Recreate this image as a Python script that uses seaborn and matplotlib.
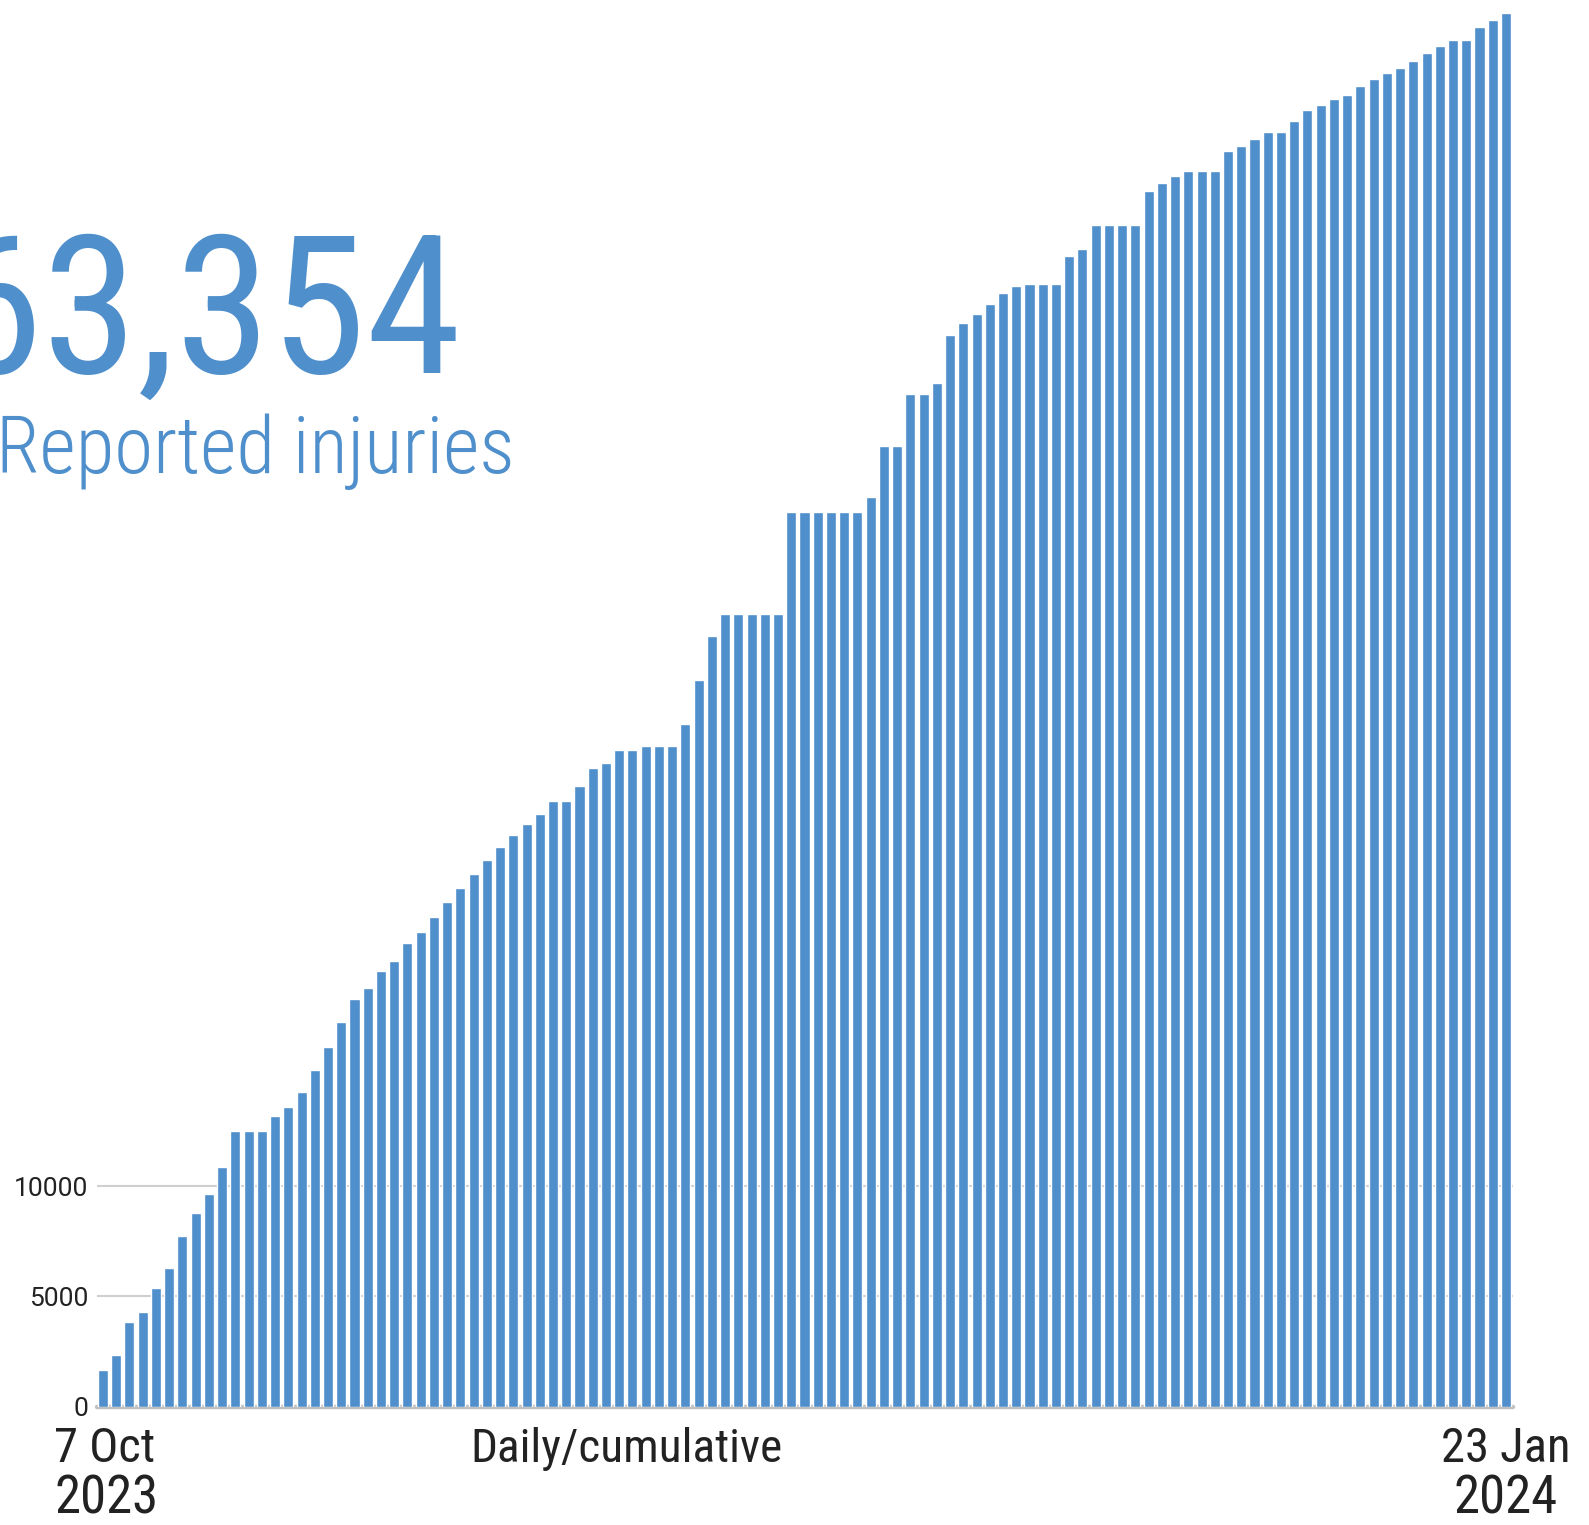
import matplotlib
matplotlib.use("Agg")
import matplotlib.pyplot as plt
import seaborn as sns
from matplotlib import font_manager

# ---- data ----
day_index = list(range(1, 108))  # daily bars from 7 Oct 2023 to 23 Jan 2024
cumulative_injuries = [
    1645, 2327, 3827, 4282, 5373, 6282, 7750, 8782, 9645, 10873,
    12523, 12523, 12523, 13191, 13600, 14282, 15282, 16327, 17464, 18509,
    19009, 19782, 20236, 21055, 21555, 22236, 22918, 23555, 24191, 24827,
    25418, 25964, 26464, 26918, 27509, 27509, 28205, 29023, 29250, 29841,
    29841, 30023, 30023, 30023, 31023, 33023, 35023, 36023, 36023, 36023,
    36023, 36023, 40659, 40659, 40659, 40659, 40659, 40659, 41341, 43659,
    43659, 46023, 46023, 46523, 48705, 49250, 49659, 50114, 50614, 50932,
    51023, 51023, 51023, 52295, 52614, 53705, 53705, 53705, 53705, 55250,
    55614, 55932, 56159, 56159, 56159, 57068, 57295, 57614, 57932, 57932,
    58432, 58932, 59159, 59432, 59614, 60023, 60341, 60614, 60841, 61159,
    61523, 61841, 62114, 62114, 62705, 63023, 63354,
]
ytick_values = [0, 5000, 10000]
ytick_labels = ["0", "5000", "10000"]
total_label = "63,354"
subtitle = "Reported injuries"
start_label = ["7 Oct", "2023"]
end_label = ["23 Jan", "2024"]
mode_label = "Daily/cumulative"

BLUE = "#4f8fcc"
DARK = "#222222"

sns.set_style("white")
names = {f.name for f in font_manager.fontManager.ttflist}
cond = "Roboto"
for cand in ["Roboto Condensed", "Liberation Sans Narrow", "DejaVu Sans Condensed"]:
    if cand in names:
        cond = cand
        break
plt.rcParams["font.family"] = ["Roboto", "DejaVu Sans"]

W, H = 1589, 1525
fig = plt.figure(figsize=(W / 100, H / 100), dpi=100)
ax = fig.add_axes([97 / W, (H - 1406.5) / H, (1513 - 97) / W, 1406.5 / H])

sns.barplot(x=day_index, y=cumulative_injuries, color=BLUE, saturation=1,
            width=0.76, ax=ax, zorder=2)

ax.set_xlim(-0.453, 106.53)
ax.set_ylim(0, 63930)
ax.set_xticks([])
ax.set_xlabel("")
ax.set_ylabel("")
ax.set_yticks(ytick_values)
ax.set_yticklabels(ytick_labels, family=["Roboto", "DejaVu Sans"], fontsize=19, color=DARK)
ax.tick_params(axis="y", length=0, pad=6.5)
ax.yaxis.grid(True, color="#cfcfcf", lw=1.5, zorder=0)
ax.set_axisbelow(True)
for s in ax.spines.values():
    s.set_visible(False)
ax.axhline(0, color="#c0c0c0", lw=3.2, zorder=1, clip_on=False)

def fx(px):
    return px / W

def fy(py):
    return 1 - py / H

fig.text(fx(462), fy(373), total_label, ha="right", va="baseline",
         fontsize=139, color=BLUE, family=[cond, "Roboto"])
fig.text(fx(-4), fy(473), subtitle, ha="left", va="baseline",
         fontsize=57, color=BLUE, fontweight="light", family=[cond, "Roboto"])

fig.text(fx(105), fy(1462), start_label[0], ha="center", va="baseline",
         fontsize=35, color=DARK, family=[cond, "Roboto"])
fig.text(fx(107), fy(1513), start_label[1], ha="center", va="baseline",
         fontsize=38, color=DARK, family=[cond, "Roboto"])
fig.text(fx(1506), fy(1462), end_label[0], ha="center", va="baseline",
         fontsize=35, color=DARK, family=[cond, "Roboto"])
fig.text(fx(1506), fy(1513), end_label[1], ha="center", va="baseline",
         fontsize=38, color=DARK, family=[cond, "Roboto"])
fig.text(fx(627), fy(1462), mode_label, ha="center", va="baseline",
         fontsize=34, color=DARK, family=[cond, "Roboto"])

fig.savefig("out.png", dpi=100, facecolor="white")
